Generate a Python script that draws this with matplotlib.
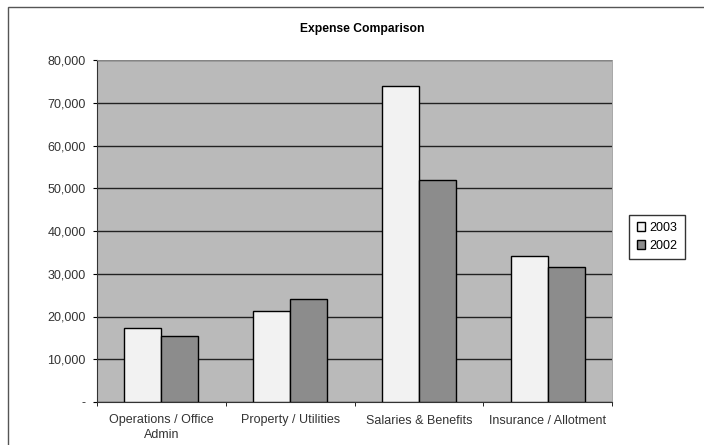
import numpy as np
import matplotlib
matplotlib.use("Agg")
import matplotlib.pyplot as plt
from matplotlib.patches import Rectangle

plt.rcParams['font.family'] = ['Liberation Sans', 'DejaVu Sans']

categories = ['Operations / Office\nAdmin', 'Property / Utilities',
              'Salaries & Benefits', 'Insurance / Allotment']
vals_2003 = [17300, 21300, 74000, 34200]
vals_2002 = [15400, 24000, 52000, 31500]
yticks = [0, 10000, 20000, 30000, 40000, 50000, 60000, 70000, 80000]
ytick_labels = ['-', '10,000', '20,000', '30,000', '40,000',
                '50,000', '60,000', '70,000', '80,000']

fig = plt.figure(figsize=(7.04, 4.45), dpi=100)
fig.patch.set_facecolor('white')
# outer chart border
fig.add_artist(Rectangle((8/704, -0.05), 1.0, 1 - 7/445 + 0.05,
                         transform=fig.transFigure, fill=False,
                         edgecolor='#555555', linewidth=1.0))

ax = fig.add_axes([97/704, 1 - 402/445, (612-97)/704, (402-60)/445])
ax.set_facecolor('#bababa')

x = np.arange(len(categories))
w = 0.287
ax.bar(x - w/2, vals_2003, w, color='#f2f2f2', edgecolor='black',
       linewidth=1.0, label='2003', zorder=3)
ax.bar(x + w/2, vals_2002, w, color='#8c8c8c', edgecolor='black',
       linewidth=1.0, label='2002', zorder=3)

fs = 9
ax.set_xlim(-0.5, len(categories) - 0.5)
ax.set_ylim(0, 80000)
ax.set_yticks(yticks)
ax.set_yticklabels(ytick_labels, fontsize=fs, color='#333333')
ax.yaxis.grid(True, color='#222222', linewidth=1.0, zorder=1)
ax.set_axisbelow(True)

ax.set_xticks(x)
ax.set_xticklabels(categories, fontsize=fs, color='#333333',
                   linespacing=1.25)
ax.set_xticks(np.arange(-0.5, len(categories)), minor=True)
ax.tick_params(axis='x', which='major', length=0, pad=9)
ax.tick_params(axis='x', which='minor', length=3, direction='out')
ax.tick_params(axis='y', length=3, direction='out', pad=5)

for side in ['top', 'right']:
    ax.spines[side].set_color('#999999')
    ax.spines[side].set_linewidth(0.6)
for side in ['left', 'bottom']:
    ax.spines[side].set_color('#333333')

fig.text(362/704, 1 - 29/445, 'Expense Comparison', ha='center',
         va='center', fontsize=8.7, fontweight='bold')

leg = ax.legend(loc='center left', bbox_to_anchor=(629/704, 1 - 237/445),
                bbox_transform=fig.transFigure, fontsize=fs,
                frameon=True, fancybox=False, handlelength=0.7,
                handleheight=0.7, handletextpad=0.3, borderpad=0.6,
                labelspacing=0.45, borderaxespad=0)
leg.get_frame().set_edgecolor('black')
leg.get_frame().set_linewidth(1.0)

fig.savefig('out.png', dpi=100)
